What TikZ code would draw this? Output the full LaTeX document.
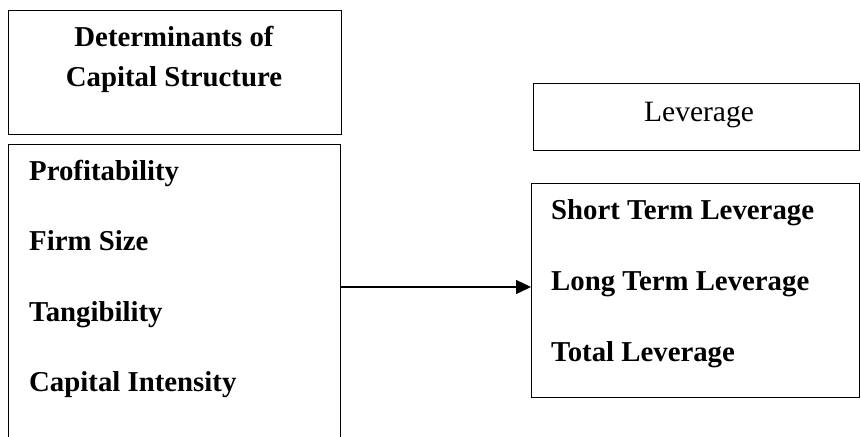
\documentclass[tikz,border=0pt]{standalone}
\usepackage{fontspec}
\setmainfont{Liberation Serif}
\usetikzlibrary{arrows.meta}
\begin{document}
\begin{tikzpicture}[x=1pt,y=-1pt,
  box/.style={draw,line width=1.3pt,rectangle,inner sep=0pt,anchor=north west},
  itemtxt/.style={font=\fontsize{28.8}{30}\selectfont\bfseries,inner sep=0pt,anchor=base west},
  headtxt/.style={font=\fontsize{28.8}{30}\selectfont\bfseries,inner sep=0pt,anchor=base},
  levtxt/.style={font=\fontsize{29.5}{30}\selectfont,inner sep=0pt,anchor=base},
  conn/.style={line width=1.3pt,-{Triangle[length=15pt,width=14pt]}}]
\useasboundingbox (0,0) rectangle (861,436);
\clip (0,0) rectangle (861,436);
% boxes
\node[box,minimum width=333pt,minimum height=124pt] (dethead) at (8,10) {};
\node[box,minimum width=332pt,minimum height=310pt] (detlist) at (8,144) {};
\node[box,minimum width=326pt,minimum height=67pt] (levhead) at (533,83) {};
\node[box,minimum width=328pt,minimum height=214pt] (levlist) at (531,183) {};
% header texts
\node[headtxt] (d1) at (174,47) {Determinants of};
\node[headtxt] (d2) at (174,86) {Capital Structure};
\node[levtxt] (lv) at (699,121) {Leverage};
% left items
\node[itemtxt] (p1) at (29,180) {Profitability};
\node[itemtxt] (p2) at (29,250) {Firm Size};
\node[itemtxt] (p3) at (29,321) {Tangibility};
\node[itemtxt] (p4) at (29,391) {Capital Intensity};
% right items
\node[itemtxt] (r1) at (551,219) {Short Term Leverage};
\node[itemtxt] (r2) at (551,290) {Long Term Leverage};
\node[itemtxt] (r3) at (551,361) {Total Leverage};
% connector
\coordinate (ay) at (0,287);
\draw[conn] (detlist.east |- ay) -- (levlist.west |- ay);
\end{tikzpicture}
\end{document}
